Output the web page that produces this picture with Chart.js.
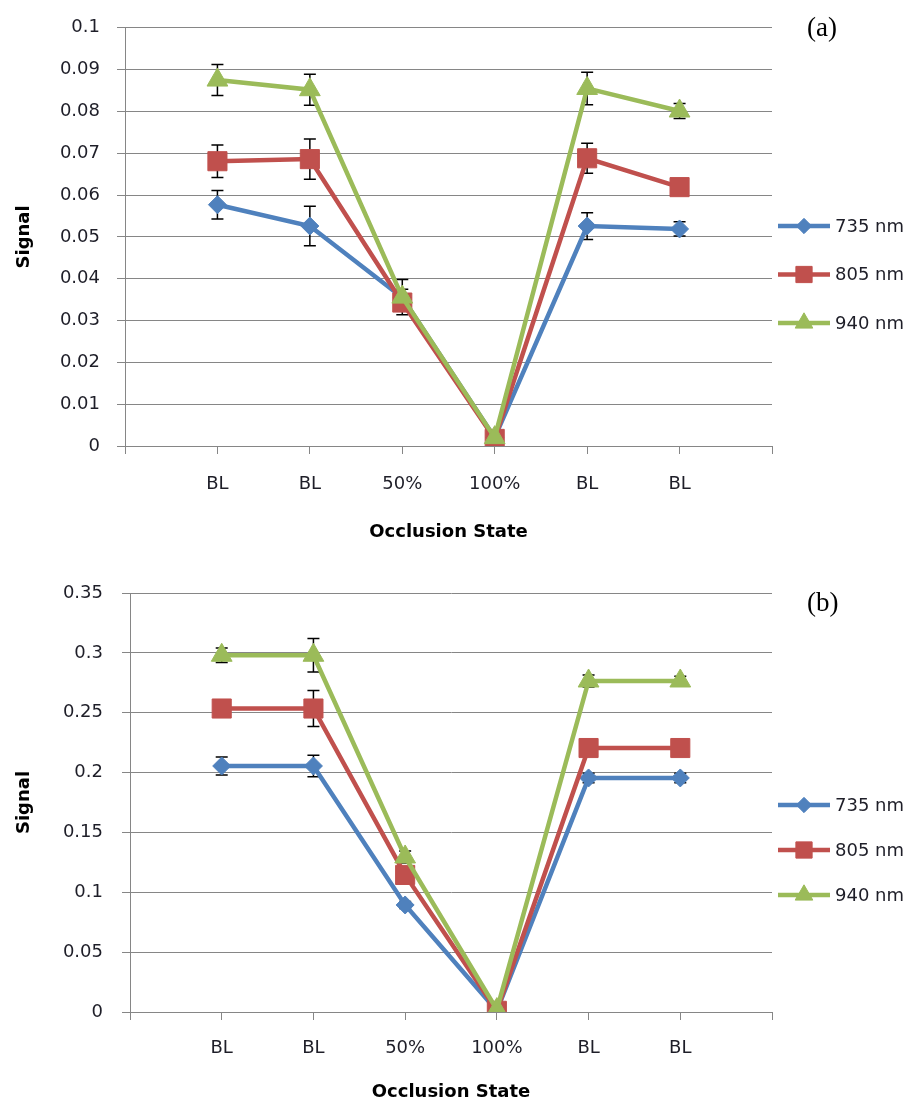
<!DOCTYPE html>
<html>
<head>
<meta charset="utf-8">
<script src="https://cdn.jsdelivr.net/npm/chart.js@4.4.1/dist/chart.umd.min.js"></script>
<style>
  html, body { margin: 0; padding: 0; background: #ffffff; }
  body { width: 919px; height: 1105px; position: relative; overflow: hidden; }
  .panel { position: absolute; left: 0; width: 919px; height: 550px; }
  .panel canvas { display: block; }
  .tag { position: absolute; font-family: "Liberation Serif", "DejaVu Serif", serif; font-size: 27px; color: #000; line-height: 1; }
</style>
</head>
<body>
<div class="panel" style="top:0px"><canvas id="chartA" width="919" height="550"></canvas></div>
<div class="panel" style="top:555px"><canvas id="chartB" width="919" height="550"></canvas></div>
<div class="tag" style="left:807px; top:14px">(a)</div>
<div class="tag" style="left:807px; top:589px">(b)</div>

<script>
// Occlusion states along the x axis (blank slots pad both ends of the axis)
const categories = ['', 'BL', 'BL', '50%', '100%', 'BL', 'BL', ''];
const seriesNames = ['735 nm', '805 nm', '940 nm'];

// Panel (a): mean signal per state
const a735 = [null, 0.0577, 0.0526, 0.0355, 0.0020, 0.0526, 0.0519, null];
const a805 = [null, 0.0681, 0.0686, 0.0343, 0.0017, 0.0688, 0.0619, null];
const a940 = [null, 0.0875, 0.0852, 0.0356, 0.0020, 0.0855, 0.0801, null];
// Panel (a): error bar half-heights
const a735Err = [0, 0.0034, 0.0047, 0.0020, 0, 0.0032, 0.0017, 0];
const a805Err = [0, 0.0039, 0.0048, 0.0020, 0, 0.0036, 0.0008, 0];
const a940Err = [0, 0.0037, 0.0037, 0.0042, 0, 0.0039, 0.0018, 0];

// Panel (b): mean signal per state
const b735 = [null, 0.2055, 0.2055, 0.0894, 0.0010, 0.1955, 0.1955, null];
const b805 = [null, 0.2535, 0.2535, 0.1145, 0.0010, 0.2205, 0.2205, null];
const b940 = [null, 0.2980, 0.2980, 0.1295, 0.0020, 0.2765, 0.2765, null];
// Panel (b): error bar half-heights
const b735Err = [0, 0.0075, 0.0090, 0.0030, 0, 0.0040, 0.0040, 0];
const b805Err = [0, 0.0030, 0.0150, 0.0040, 0, 0.0020, 0.0020, 0];
const b940Err = [0, 0.0060, 0.0140, 0.0050, 0, 0.0050, 0.0040, 0];

// Y axis ranges / tick steps
const aTicks = { max: 0.1, step: 0.01 };
const bTicks = { max: 0.35, step: 0.05 };

const colors = ['#4F81BD', '#C0504D', '#9BBB59'];
const markers = [
  { style: 'rectRot', radius: 9 },
  { style: 'rect', radius: 13.5 },
  { style: 'triangle', radius: 12 }
];
const gridColor = '#868686';
const textColor = '#1e1e28';
const sansFamily = '"DejaVu Sans", "Open Sans", sans-serif';
const tickFont = { family: sansFamily, size: 18 };
const titleFont = { family: sansFamily, size: 18, weight: 'bold' };

// Vertical error bars, drawn beneath the lines and markers
const errorBarPlugin = {
  id: 'errorBars',
  beforeDatasetsDraw(chart) {
    const ctx = chart.ctx;
    const yScale = chart.scales.y;
    ctx.save();
    ctx.strokeStyle = '#000000';
    ctx.lineWidth = 1.5;
    chart.data.datasets.forEach((ds, i) => {
      const meta = chart.getDatasetMeta(i);
      meta.data.forEach((pt, j) => {
        const v = ds.data[j];
        const e = ds.errors ? ds.errors[j] : 0;
        if (v == null || !e) return;
        const yTop = yScale.getPixelForValue(v + e);
        const yBot = yScale.getPixelForValue(v - e);
        const x = pt.x;
        ctx.beginPath();
        ctx.moveTo(x, yTop); ctx.lineTo(x, yBot);
        ctx.moveTo(x - 6, yTop); ctx.lineTo(x + 6, yTop);
        ctx.moveTo(x - 6, yBot); ctx.lineTo(x + 6, yBot);
        ctx.stroke();
      });
    });
    ctx.restore();
  }
};

// Legend at the right: short line with the series marker, then the name
const sideLegendPlugin = {
  id: 'sideLegend',
  afterDraw(chart, args, opts) {
    const ctx = chart.ctx;
    ctx.save();
    chart.data.datasets.forEach((ds, i) => {
      const y = opts.top + i * opts.gap;
      ctx.strokeStyle = ds.borderColor;
      ctx.lineWidth = 4.5;
      ctx.beginPath();
      ctx.moveTo(opts.x, y);
      ctx.lineTo(opts.x + 52, y);
      ctx.stroke();
      ctx.fillStyle = ds.backgroundColor;
      ctx.strokeStyle = ds.borderColor;
      ctx.lineWidth = 1;
      Chart.helpers.drawPoint(ctx, {
        pointStyle: ds.pointStyle, radius: ds.pointRadius * 0.85, borderWidth: 1, rotation: 0
      }, opts.x + 26, y);
      ctx.fillStyle = textColor;
      ctx.font = '18px ' + sansFamily;
      ctx.textBaseline = 'middle';
      ctx.textAlign = 'left';
      ctx.fillText(ds.label, opts.x + 57, y + 1);
    });
    ctx.restore();
  }
};

function makeDatasets(values, errors) {
  return values.map((vals, i) => ({
    label: seriesNames[i],
    data: vals,
    errors: errors[i],
    borderColor: colors[i],
    backgroundColor: colors[i],
    borderWidth: 4.5,
    pointStyle: markers[i].style,
    pointRadius: markers[i].radius,
    pointBorderWidth: 1,
    pointBackgroundColor: colors[i],
    pointBorderColor: colors[i],
    spanGaps: false,
    tension: 0,
    order: 3 - i
  }));
}

function makeChart(canvasId, values, errors, ticks, geom) {
  return new Chart(document.getElementById(canvasId), {
    type: 'line',
    data: { labels: categories, datasets: makeDatasets(values, errors) },
    plugins: [errorBarPlugin, sideLegendPlugin],
    options: {
      responsive: false,
      animation: false,
      devicePixelRatio: 1,
      events: [],
      layout: { padding: { top: geom.top, right: 147, left: 0, bottom: 0 } },
      plugins: {
        legend: { display: false },
        tooltip: { enabled: false },
        sideLegend: geom.legend
      },
      scales: {
        x: {
          type: 'category',
          offset: false,
          afterFit(scale) { scale.height = geom.xHeight; },
          grid: { display: true, drawOnChartArea: false, drawTicks: true, tickLength: 8, color: gridColor, lineWidth: 1 },
          border: { display: true, color: gridColor, width: 1 },
          ticks: { color: textColor, font: tickFont, padding: geom.xPad, maxRotation: 0, autoSkip: false },
          title: { display: true, text: 'Occlusion State', color: '#000', font: titleFont, padding: { top: 0, bottom: geom.xTitlePad } }
        },
        y: {
          min: 0,
          max: ticks.max,
          afterFit(scale) { scale.width = geom.yWidth; },
          grid: { display: true, drawTicks: true, tickLength: 8, color: gridColor, lineWidth: 1 },
          border: { display: true, color: gridColor, width: 1 },
          ticks: {
            stepSize: ticks.step,
            color: textColor,
            font: tickFont,
            padding: geom.yPad,
            callback: (v) => String(parseFloat(Number(v).toFixed(2)))
          },
          title: { display: true, text: 'Signal', color: '#000', font: titleFont, padding: { top: 14, bottom: 0 } }
        }
      }
    }
  });
}

makeChart('chartA', [a735, a805, a940], [a735Err, a805Err, a940Err], aTicks, {
  top: 20, xHeight: 104, xPad: 20, xTitlePad: 7, yWidth: 125, yPad: 17,
  legend: { x: 778, top: 226, gap: 48.5 }
});

makeChart('chartB', [b735, b805, b940], [b735Err, b805Err, b940Err], bTicks, {
  top: 38, xHeight: 93, xPad: 18, xTitlePad: 2, yWidth: 130, yPad: 19,
  legend: { x: 778, top: 250, gap: 45 }
});
</script>
</body>
</html>
